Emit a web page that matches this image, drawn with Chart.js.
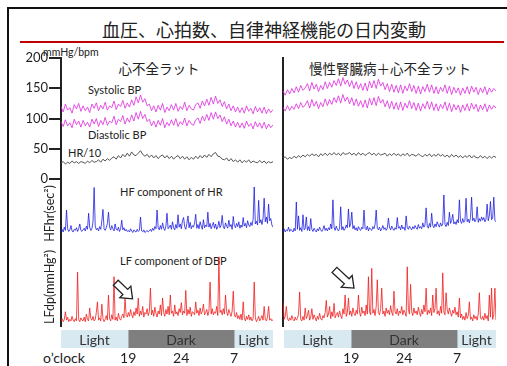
<!DOCTYPE html>
<html>
<head>
<meta charset="utf-8">
<script src="https://cdn.jsdelivr.net/npm/chart.js@4.4.0/dist/chart.umd.min.js"></script>
<style>
    body { margin: 0; width: 507px; height: 366px; overflow: hidden; background: #fff; position: relative; font-family: Lato, 'Noto Sans', sans-serif; color: #222; }
    .frame { position: absolute; left: 7px; top: 7px; width: 530px; height: 390px; border: 2px solid #111; }
    .title { position: absolute; left: 0; width: 528px; top: 17px; text-align: center; font: 18px 'Noto Sans CJK JP'; line-height: 24px; color: #222; }
    .rule { position: absolute; left: 20px; top: 41px; width: 484px; height: 2px; background: #c00000; }
    canvas { position: absolute; }
    .lbl { position: absolute; white-space: nowrap; line-height: 1; font-size: 11px; color: #222; }
    .jp { position: absolute; white-space: nowrap; line-height: 1; font: 13.5px 'Noto Sans CJK JP'; color: #222; transform: translateX(-50%); }
</style>
</head>
<body>
<div class="frame"></div>
<div class="title">血圧、心拍数、自律神経機能の日内変動</div>
<div class="rule"></div>

<div class="lbl" style="left:43px;top:47px;font-size:10.5px">mmHg/bpm</div>
<div class="jp" style="left:159px;top:58px">心不全ラット</div>
<div class="jp" style="left:390px;top:58px">慢性腎臓病＋心不全ラット</div>
<div class="lbl" style="left:88px;top:84px">Systolic BP</div>
<div class="lbl" style="left:88px;top:129px">Diastolic BP</div>
<div class="lbl" style="left:68px;top:147px">HR/10</div>
<div class="lbl" style="left:120px;top:186px">HF component of HR</div>
<div class="lbl" style="left:120px;top:255px">LF component of DBP</div>
<div class="lbl" style="left:43px;top:351px;font-size:14px">o’clock</div>

<canvas id="bpL" width="265" height="143" style="left:8px;top:45px"></canvas>
<canvas id="hfL" width="265" height="67" style="left:8px;top:180px"></canvas>
<canvas id="lfL" width="265" height="80" style="left:8px;top:247px"></canvas>
<canvas id="bpR" width="214" height="143" style="left:282px;top:45px"></canvas>
<canvas id="hfR" width="214" height="67" style="left:282px;top:180px"></canvas>
<canvas id="lfR" width="214" height="80" style="left:282px;top:247px"></canvas>
<canvas id="barL" width="212" height="36" style="left:61px;top:330px"></canvas>
<canvas id="barR" width="212" height="36" style="left:284px;top:330px"></canvas>

<script>
// 記録時間: 11.4時から24時間
const HOUR_START = 11.4;
const HOUR_END = 35.4;
const BP_STEP = 0.25;      // 血圧・心拍は15分ごと
const SPEC_STEP = 0.125;   // HF・LFは7.5分ごと

// 心不全ラット
const sysL = [120,111,124,114,118,109,123,116,125,112, 121,113,119,110,124,117,126,113,122,116,
    127,114,121,118,129,115,124,120,130,117, 126,119,131,122,136,126,139,127,133,121,
    124,113,121,111,122,114,125,110,119,113, 123,114,125,112,120,115,127,113,122,116,
    114,123,126,117,129,121,132,122,135,124, 137,125,131,120,128,116,124,113,121,111,
    119,110,118,109,121,112,117,108,120,111, 118,109,119,108,116,110,115];
const diaL = [95,87,98,88,93,85,99,90,96,86, 97,88,94,86,99,91,100,87,97,90,
    102,89,96,93,104,90,99,95,105,91, 101,94,106,96,110,99,112,100,107,95,
    99,88,96,86,97,89,100,85,94,88, 98,89,100,87,95,90,101,88,97,91,
    89,98,101,92,104,96,107,97,110,99, 111,100,106,95,103,91,99,88,96,86,
    94,85,93,84,96,87,92,83,95,86, 93,84,94,83,91,85,90];
const hrL = [27,29,25,28,26,30,27,29,26,29, 28,26,30,27,31,28,29,32,28,33,
    30,34,31,35,37,33,39,35,41,37, 43,38,45,40,39,43,47,41,38,41,
    36,40,35,39,34,38,40,35,39,34, 38,33,37,39,34,38,33,37,32,36,
    33,38,34,39,35,40,36,41,37,42, 44,38,37,33,32,35,30,34,29,32,
    28,32,27,31,28,32,27,30,28,27, 31,27,30,26,29,27,29];
const hfL = [5,8,3,12,6,44,9,4,7,15, 5,3,8,6,11,4,9,18,6,4,
    7,10,5,14,8,38,12,6,9,22, 86,14,7,10,5,13,8,24,45,9,
    6,11,19,40,12,7,15,9,5,18, 8,6,12,4,9,25,7,11,5,8,
    4,6,3,9,5,2,7,4,3,8, 4,6,31,5,3,7,2,4,6,3,
    5,8,4,10,6,13,9,44,11,7, 15,8,20,10,6,14,38,9,12,16,
    8,22,11,7,17,10,35,12,18,9, 24,30,13,8,19,33,11,21,9,15,
    12,20,36,10,17,9,22,14,8,26, 11,16,13,40,12,19,9,15,21,10,
    18,8,13,23,11,16,34,12,9,20, 14,10,25,13,17,8,32,15,11,19,
    13,22,10,16,12,30,14,19,11,24, 16,13,21,15,27,87,18,23,16,62,
    20,26,17,29,66,22,31,19,55,24, 28,16,12];
const lfL = [3,6,2,5,15,4,8,2,5,3, 9,4,2,6,3,67,5,2,7,4,
    3,8,2,12,5,3,20,6,4,9, 3,5,14,28,4,7,3,25,6,2,
    5,10,4,37,6,3,11,5,61,4, 8,3,13,6,4,9,12,7,33,10,
    8,14,9,18,11,7,15,10,20,12, 33,9,16,11,22,8,14,12,19,10,
    15,46,11,17,9,21,13,8,16,12, 24,10,33,14,9,18,12,22,11,37,
    13,16,9,24,12,15,10,19,14,27, 11,16,13,43,10,18,12,21,9,15,
    14,11,28,13,17,10,20,12,16,25, 11,14,18,10,16,54,12,19,11,15,
    13,22,10,87,14,17,11,19,12,37, 15,10,18,13,9,16,42,11,8,14,
    6,10,5,12,4,28,7,3,9,5, 11,4,8,3,6,54,7,2,5,9,
    3,6,10,4,22,5,3,8,22,4, 6,3,5];

// 慢性腎臓病＋心不全ラット
const sysR = [146,139,148,141,150,143,153,144,155,147, 151,158,146,160,149,157,145,155,148,161,
    150,160,152,163,155,166,154,168,157,164, 153,163,150,161,149,158,147,159,146,162,
    151,163,150,165,154,160,148,158,145,157, 144,155,143,156,142,154,146,158,145,155,
    142,154,141,153,145,157,144,156,142,153, 141,152,145,156,142,154,140,152,143,151,
    139,151,142,153,141,154,144,152,140,151, 143,153,140,151,144,150,146];
const diaR = [119,113,122,114,121,116,125,117,127,119, 123,130,118,132,121,129,117,127,120,133,
    122,132,124,135,127,138,126,140,129,136, 125,135,122,133,121,130,119,131,118,134,
    123,135,122,137,126,132,120,130,117,129, 116,127,115,128,114,126,118,130,117,127,
    114,126,113,125,117,129,116,128,114,125, 113,124,117,128,114,126,112,124,115,123,
    111,123,114,125,113,126,116,124,112,123, 115,125,112,123,116,122,118];
const hrR = [36,38,34,37,35,39,36,40,37,41, 38,42,39,43,40,42,38,43,40,44,
    40,44,41,45,41,44,40,45,42,43, 45,41,44,40,45,41,44,40,43,45,
    41,44,40,44,41,42,44,39,43,40, 44,40,43,39,43,40,44,39,42,41,
    39,43,40,38,42,39,43,38,42,39, 43,39,42,38,41,37,42,38,41,37,
    40,36,40,37,41,36,40,37,36,40, 36,39,35,39,36,39,37];
const hfR = [4,9,3,7,5,12,4,8,6,3, 10,5,59,8,33,6,11,4,35,7,
    9,31,6,13,5,28,8,4,10,6, 3,9,5,12,7,4,8,15,6,10,
    5,11,7,18,9,63,12,6,14,8, 5,10,50,7,13,6,9,16,11,46,
    12,18,40,9,15,7,11,5,13,8, 6,12,9,44,10,7,14,5,11,8,
    6,13,9,17,44,10,7,12,5,9, 15,8,11,6,10,29,12,7,14,9,
    6,11,8,30,10,13,7,16,9,12, 6,33,11,8,14,10,7,13,9,15,
    11,8,17,10,13,9,20,12,16,48, 14,10,19,12,38,15,11,18,13,22,
    16,12,20,14,18,72,17,13,21,15, 40,19,24,36,18,22,17,26,20,63,
    23,19,28,21,25,66,22,27,20,30, 68,24,29,22,26,50,21,28,23,31,
    25,30,22,27,55,24,33,60,26,29, 68,25,22];
const lfR = [28,5,9,22,6,3,7,4,10,5, 3,8,4,6,12,41,5,3,9,4,
    20,6,10,17,4,8,19,5,11,7, 3,9,5,13,6,4,10,7,14,30,
    8,12,22,6,15,9,26,7,11,14, 8,16,10,6,19,12,37,9,14,33,
    11,16,9,20,13,10,17,12,37,14, 9,21,13,16,10,24,12,61,15,11,
    72,13,18,10,22,57,14,11,19,46, 12,16,9,20,13,17,11,23,14,10,
    42,15,12,19,10,16,13,22,11,17, 14,9,74,18,12,51,15,10,20,13,
    16,11,21,14,9,18,12,24,15,46, 11,17,13,20,10,37,14,19,46,12,
    16,10,22,13,66,15,11,40,18,12, 20,14,9,17,13,21,11,15,8,33,
    7,12,5,9,4,14,6,10,28,5, 8,3,11,6,9,4,12,40,7,5,
    9,4,13,6,10,3,37,8,46,5, 11,46,4];

// 明暗周期
const bandNames = ['Light', 'Dark', 'Light'];
const bandStarts = [11.4, 19, 31];
const bandEnds = [19, 31, 35.4];
// 時刻ラベル（24は暗期の中央に表示）
const clockTickHours = [19, 25, 31];
const clockLabels = ['19', '24', '7'];

const bpTicks = [0, 50, 100, 150, 200];

Chart.defaults.font.family = 'Lato, "Noto Sans", sans-serif';
Chart.defaults.animation = false;
Chart.defaults.events = [];
Chart.defaults.plugins.legend.display = false;
Chart.defaults.plugins.tooltip.enabled = false;

const PINK = 'rgba(222, 40, 222, 0.8)';
const GRAY = '#555';
const BLUE = 'rgba(25, 25, 225, 0.78)';
const RED = 'rgba(240, 25, 25, 0.78)';

function toPoints(values, step) {
    return values.map((v, i) => ({ x: HOUR_START + i * step, y: v }));
}

function trace(values, step, color) {
    return {
        data: toPoints(values, step),
        borderColor: color,
        borderWidth: 1,
        pointRadius: 0,
        tension: 0,
        fill: false
    };
}

// 白抜き矢印
const hollowArrow = {
    id: 'hollowArrow',
    afterDatasetsDraw(chart, args, opts) {
        if (!opts.from) return;
        const { ctx, scales: { x, y } } = chart;
        const tx = x.getPixelForValue(opts.from[0]), ty = y.getPixelForValue(opts.from[1]);
        const px = x.getPixelForValue(opts.to[0]), py = y.getPixelForValue(opts.to[1]);
        const len = Math.hypot(px - tx, py - ty);
        const dx = (px - tx) / len, dy = (py - ty) / len;
        const nx = -dy, ny = dx;
        const head = 10, hw = 8, sw = 3.5;
        const bx = px - dx * head, by = py - dy * head;
        ctx.save();
        ctx.beginPath();
        ctx.moveTo(tx + nx * sw, ty + ny * sw);
        ctx.lineTo(bx + nx * sw, by + ny * sw);
        ctx.lineTo(bx + nx * hw, by + ny * hw);
        ctx.lineTo(px, py);
        ctx.lineTo(bx - nx * hw, by - ny * hw);
        ctx.lineTo(bx - nx * sw, by - ny * sw);
        ctx.lineTo(tx - nx * sw, ty - ny * sw);
        ctx.closePath();
        ctx.fillStyle = '#fff';
        ctx.fill();
        ctx.strokeStyle = '#222';
        ctx.lineWidth = 1.3;
        ctx.stroke();
        ctx.restore();
    }
};

// 明期・暗期の文字
const bandLabels = {
    id: 'bandLabels',
    afterDatasetsDraw(chart) {
        const ctx = chart.ctx;
        chart.data.datasets.forEach((ds, i) => {
            const bar = chart.getDatasetMeta(i).data[0];
            ctx.save();
            ctx.font = '14px Lato';
            ctx.fillStyle = '#333';
            ctx.textAlign = 'center';
            ctx.textBaseline = 'middle';
            ctx.fillText(ds.label, (bar.x + bar.base) / 2, bar.y + 1);
            ctx.restore();
        });
    }
};

function yAxis(width, extra) {
    return Object.assign({
        afterFit: s => { s.width = width; },
        border: { color: '#222', width: 2 },
        grid: { drawOnChartArea: false, drawTicks: false },
        ticks: { display: false }
    }, extra);
}

function makeChart(id, datasets, y, padding, arrow) {
    return new Chart(document.getElementById(id), {
        type: 'line',
        data: { datasets: datasets },
        options: {
            responsive: false,
            layout: { padding: padding },
            plugins: { hollowArrow: arrow || {} },
            scales: {
                x: { type: 'linear', min: HOUR_START, max: HOUR_END, display: false },
                y: y
            }
        },
        plugins: [hollowArrow]
    });
}

const bpPad = { top: 13, bottom: 8, left: 0, right: 0 };

// 左パネル
makeChart('bpL', [trace(sysL, BP_STEP, PINK), trace(diaL, BP_STEP, PINK), trace(hrL, BP_STEP, GRAY)],
    yAxis(53, {
        min: 0, max: 200,
        afterBuildTicks: s => { s.ticks = bpTicks.map(v => ({ value: v })); },
        grid: { drawOnChartArea: false, tickLength: 12, color: '#222', lineWidth: 2 },
        ticks: { color: '#222', font: { size: 13 }, padding: 1 }
    }), bpPad);
makeChart('hfL', [trace(hfL, SPEC_STEP, BLUE)],
    yAxis(53, {
        min: -25, max: 100,
        title: { display: true, text: 'HFhr(sec²)', color: '#222', font: { size: 12.5 }, padding: { top: 34.5 } }
    }), 0);
makeChart('lfL', [trace(lfL, SPEC_STEP, RED)],
    yAxis(53, {
        min: -5, max: 100,
        title: { display: true, text: 'LFdp(mmHg²)', color: '#222', font: { size: 12.5 }, padding: { top: 34.5 } }
    }), 0, { from: [17.6, 53], to: [19.5, 32] });

// 右パネル
makeChart('bpR', [trace(sysR, BP_STEP, PINK), trace(diaR, BP_STEP, PINK), trace(hrR, BP_STEP, GRAY)],
    yAxis(1, { min: 0, max: 200 }), bpPad);
makeChart('hfR', [trace(hfR, SPEC_STEP, BLUE)], yAxis(1, { min: -25, max: 100 }), 0);
makeChart('lfR', [trace(lfR, SPEC_STEP, RED)], yAxis(1, { min: -5, max: 100 }), 0,
    { from: [17.2, 70], to: [19.4, 46] });

// 明暗バー
function makeBands(id) {
    return new Chart(document.getElementById(id), {
        type: 'bar',
        data: {
            labels: [''],
            datasets: bandNames.map((name, i) => ({
                label: name,
                data: [[bandStarts[i], bandEnds[i]]],
                backgroundColor: name === 'Dark' ? '#7f7f7f' : '#d8e9f1',
                borderWidth: 0,
                grouped: false,
                barPercentage: 1,
                categoryPercentage: 1
            }))
        },
        options: {
            indexAxis: 'y',
            responsive: false,
            layout: { padding: 0 },
            scales: {
                x: {
                    type: 'linear', min: HOUR_START, max: HOUR_END,
                    afterFit: s => { s.height = 18; },
                    afterBuildTicks: s => { s.ticks = clockTickHours.map(v => ({ value: v })); },
                    grid: { display: false, drawTicks: false },
                    border: { display: false },
                    ticks: {
                        autoSkip: false, maxRotation: 0, color: '#222', font: { size: 14 }, padding: 2,
                        callback: (v, i) => clockLabels[i]
                    }
                },
                y: { display: false }
            }
        },
        plugins: [bandLabels]
    });
}

makeBands('barL');
makeBands('barR');
</script>
</body>
</html>
